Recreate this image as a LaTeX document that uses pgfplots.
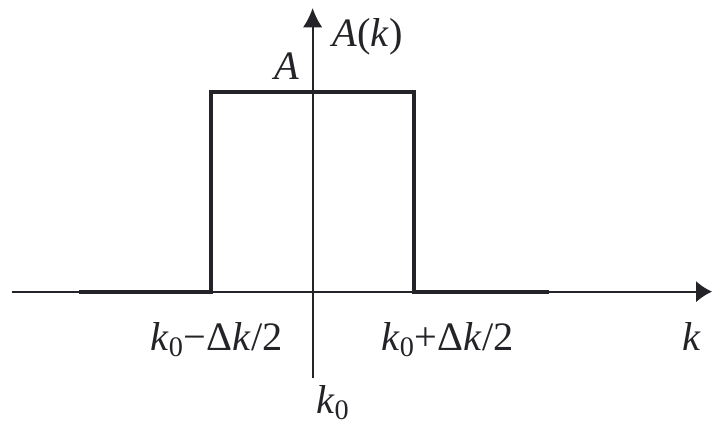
\documentclass[border=0pt]{standalone}
\usepackage{pgfplots}
\pgfplotsset{compat=1.18}
\usetikzlibrary{arrows.meta}
\usepackage{fontspec}
\setmainfont{Liberation Serif}
\definecolor{ink}{RGB}{35,35,40}

\newcommand{\kz}{\textit{k}\textsubscript{0}}
\tikzset{lbl/.style={font=\fontsize{23}{27}\selectfont, text=ink, inner sep=0pt}}

\begin{document}
\begin{tikzpicture}
\begin{axis}[
  scale only axis, width=14.26cm, height=8.6cm,
  xmin=-3.084, xmax=3.941, ymin=-0.69, ymax=1.46,
  hide axis, clip=false,
]
% invisible frame, keeps the page the size of the reference
\path (rel axis cs:0,0) rectangle (rel axis cs:1,1);
% axes
\addplot[ink, line width=1.1pt, -{Latex[length=9pt,width=12pt]}] coordinates {(-2.97,0) (3.94,0)};
\addplot[ink, line width=1.1pt, -{Latex[length=11pt,width=11pt]}] coordinates {(0,-0.43) (0,1.42)};
% spectrum A(k)
\addplot[ink, line width=2.3pt, line join=miter] coordinates {
 (-2.30,0) (-1,0) (-1,1) (1,1) (1,0) (2.33,0)
};
\node[lbl] at (axis cs:0.54,1.275) {\textit{A}(\textit{k})};
\node[lbl] at (axis cs:-0.25,1.13) {\textit{A}};
\node[lbl] at (axis cs:-0.95,-0.24) {\kz−Δ\textit{k}/2};
\node[lbl] at (axis cs:1.33,-0.24) {\kz+Δ\textit{k}/2};
\node[lbl] at (axis cs:3.74,-0.225) {\textit{k}};
\node[lbl] at (axis cs:0.20,-0.555) {\kz};
\end{axis}
\end{tikzpicture}
\end{document}
